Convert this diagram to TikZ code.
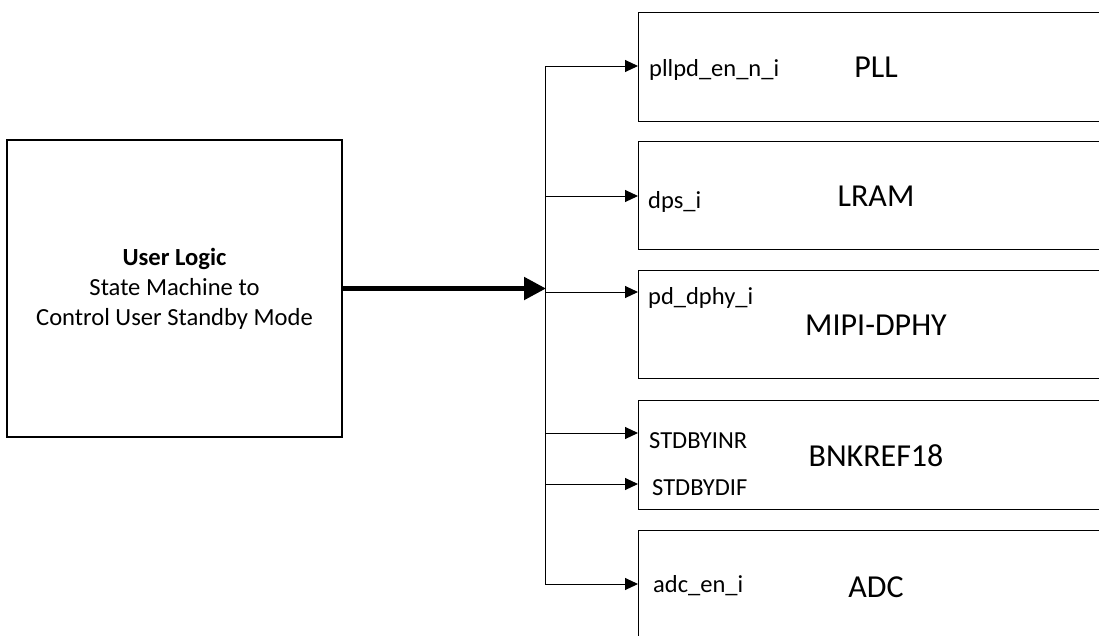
\documentclass[tikz,border=0pt]{standalone}
\usepackage{fontspec}
\setmainfont{Carlito}
\usetikzlibrary{arrows.meta}
\tikzset{
  blk/.style={draw=black, line width=1.2pt, rectangle, anchor=north west, minimum width=500pt, inner sep=0pt},
  sig/.style={draw=black, line width=1pt, -{Triangle[length=13pt,width=12pt]}},
  bus/.style={draw=black, line width=1pt},
  fat/.style={draw=black, line width=5pt, -{Triangle[length=22pt,width=22pt]}, shorten >=-1pt},
  port/.style={anchor=base west, inner sep=0pt, font=\fontsize{24.5}{29}\selectfont},
  bname/.style={anchor=base, inner sep=0pt, font=\fontsize{32}{38}\selectfont},
}
\begin{document}
\begin{tikzpicture}[x=1pt,y=-1pt]
\clip (0,0) rectangle (1099,635);
\fill[white] (0,0) rectangle (1099,635);
% user logic
\node[draw=black, line width=1.2pt, minimum width=335pt, minimum height=297pt, inner sep=0pt,
      align=center, font=\fontsize{24.6}{30}\selectfont] (ul) at (174.5,288.5)
  {\textbf{User Logic}\\State Machine to\\Control User Standby Mode};
% blocks
\node[blk, minimum height=109pt] (pll) at (638,12) {};
\node[blk, minimum height=108pt] (lram) at (638,141) {};
\node[blk, minimum height=108pt] (dphy) at (638,270) {};
\node[blk, minimum height=109pt] (bnk) at (638,400) {};
\node[blk, minimum height=150pt] (adc) at (638,530) {};
% block names
\node[bname] (n1) at (876,77) {PLL};
\node[bname] (n2) at (876,206) {LRAM};
\node[bname] (n3) at (876,335) {MIPI-DPHY};
\node[bname] (n4) at (876,466) {BNKREF18};
\node[bname] (n5) at (876,597) {ADC};
% port labels
\node[port] (p1) at (649,76) {pllpd\_en\_n\_i};
\node[port] (p2) at (648,208) {dps\_i};
\node[port] (p3) at (648,304) {pd\_dphy\_i};
\node[port] (p4) at (649,448) {STDBYINR};
\node[port] (p5) at (652,495) {STDBYDIF};
\node[port] (p6) at (653,592) {adc\_en\_i};
% bus
\coordinate (bt) at (545,66);
\coordinate (bb) at (545,584);
\coordinate (b1) at (545,66);
\coordinate (b2) at (545,196);
\coordinate (b3) at (545,292);
\coordinate (b4) at (545,433);
\coordinate (b5) at (545,484);
\coordinate (b6) at (545,584);
\draw[bus] (bt) -- (bb);
\draw[fat] (ul.east) -- (ul.east -| bt);
\draw[sig] (b1) -- (b1 -| pll.west);
\draw[sig] (b2) -- (b2 -| lram.west);
\draw[sig] (b3) -- (b3 -| dphy.west);
\draw[sig] (b4) -- (b4 -| bnk.west);
\draw[sig] (b5) -- (b5 -| bnk.west);
\draw[sig] (b6) -- (b6 -| adc.west);
\end{tikzpicture}
\end{document}
